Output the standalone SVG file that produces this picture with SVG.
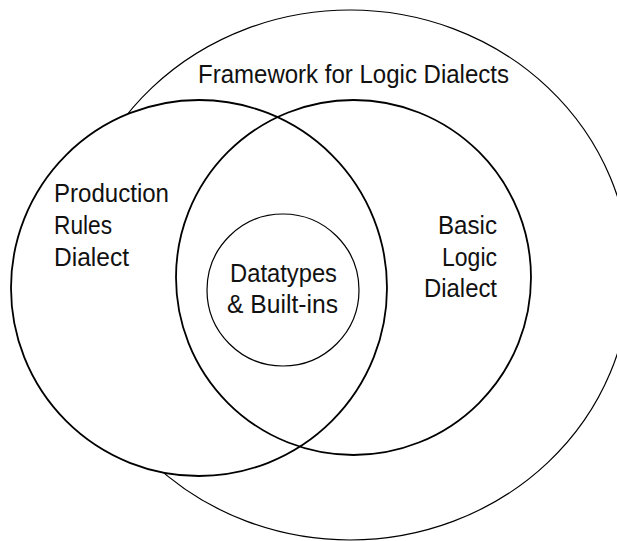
<svg xmlns="http://www.w3.org/2000/svg" width="617" height="541" viewBox="0 0 617 541">
  <style>
    .ring { fill: none; stroke: #000; }
    .solid { fill: #fff; }
    .thin { stroke-width: 1.2; }
    .thick { stroke-width: 1.8; }
    .lbl { font-family: "Liberation Sans Narrow", "Liberation Sans", Arial, sans-serif; font-size: 25px; fill: #111; }
  </style>
  <rect x="0" y="0" width="617" height="541" fill="#fff"/>
  <g id="framework">
    <ellipse class="ring thin" cx="350" cy="275" rx="280" ry="265"/>
    <text class="lbl" x="198" y="83" textLength="311" lengthAdjust="spacingAndGlyphs">Framework for Logic Dialects</text>
  </g>
  <g id="production-rules">
    <circle class="ring solid thick" cx="199" cy="288" r="188"/>
    <text class="lbl" x="54" y="202" textLength="115" lengthAdjust="spacingAndGlyphs">Production</text>
    <text class="lbl" x="54" y="234" textLength="58" lengthAdjust="spacingAndGlyphs">Rules</text>
    <text class="lbl" x="54" y="266" textLength="75" lengthAdjust="spacingAndGlyphs">Dialect</text>
  </g>
  <g id="basic-logic">
    <circle class="ring thick" cx="353.5" cy="277.5" r="177.5"/>
    <text class="lbl" x="438" y="234" textLength="59" lengthAdjust="spacingAndGlyphs">Basic</text>
    <text class="lbl" x="442" y="265.5" textLength="55" lengthAdjust="spacingAndGlyphs">Logic</text>
    <text class="lbl" x="424" y="297" textLength="73" lengthAdjust="spacingAndGlyphs">Dialect</text>
  </g>
  <g id="datatypes">
    <circle class="ring thin" cx="283" cy="290" r="76"/>
    <text class="lbl" x="230" y="282" textLength="107" lengthAdjust="spacingAndGlyphs">Datatypes</text>
    <text class="lbl" x="227" y="313" textLength="111" lengthAdjust="spacingAndGlyphs">&amp; Built-ins</text>
  </g>
  <g id="connectors"></g>
</svg>
